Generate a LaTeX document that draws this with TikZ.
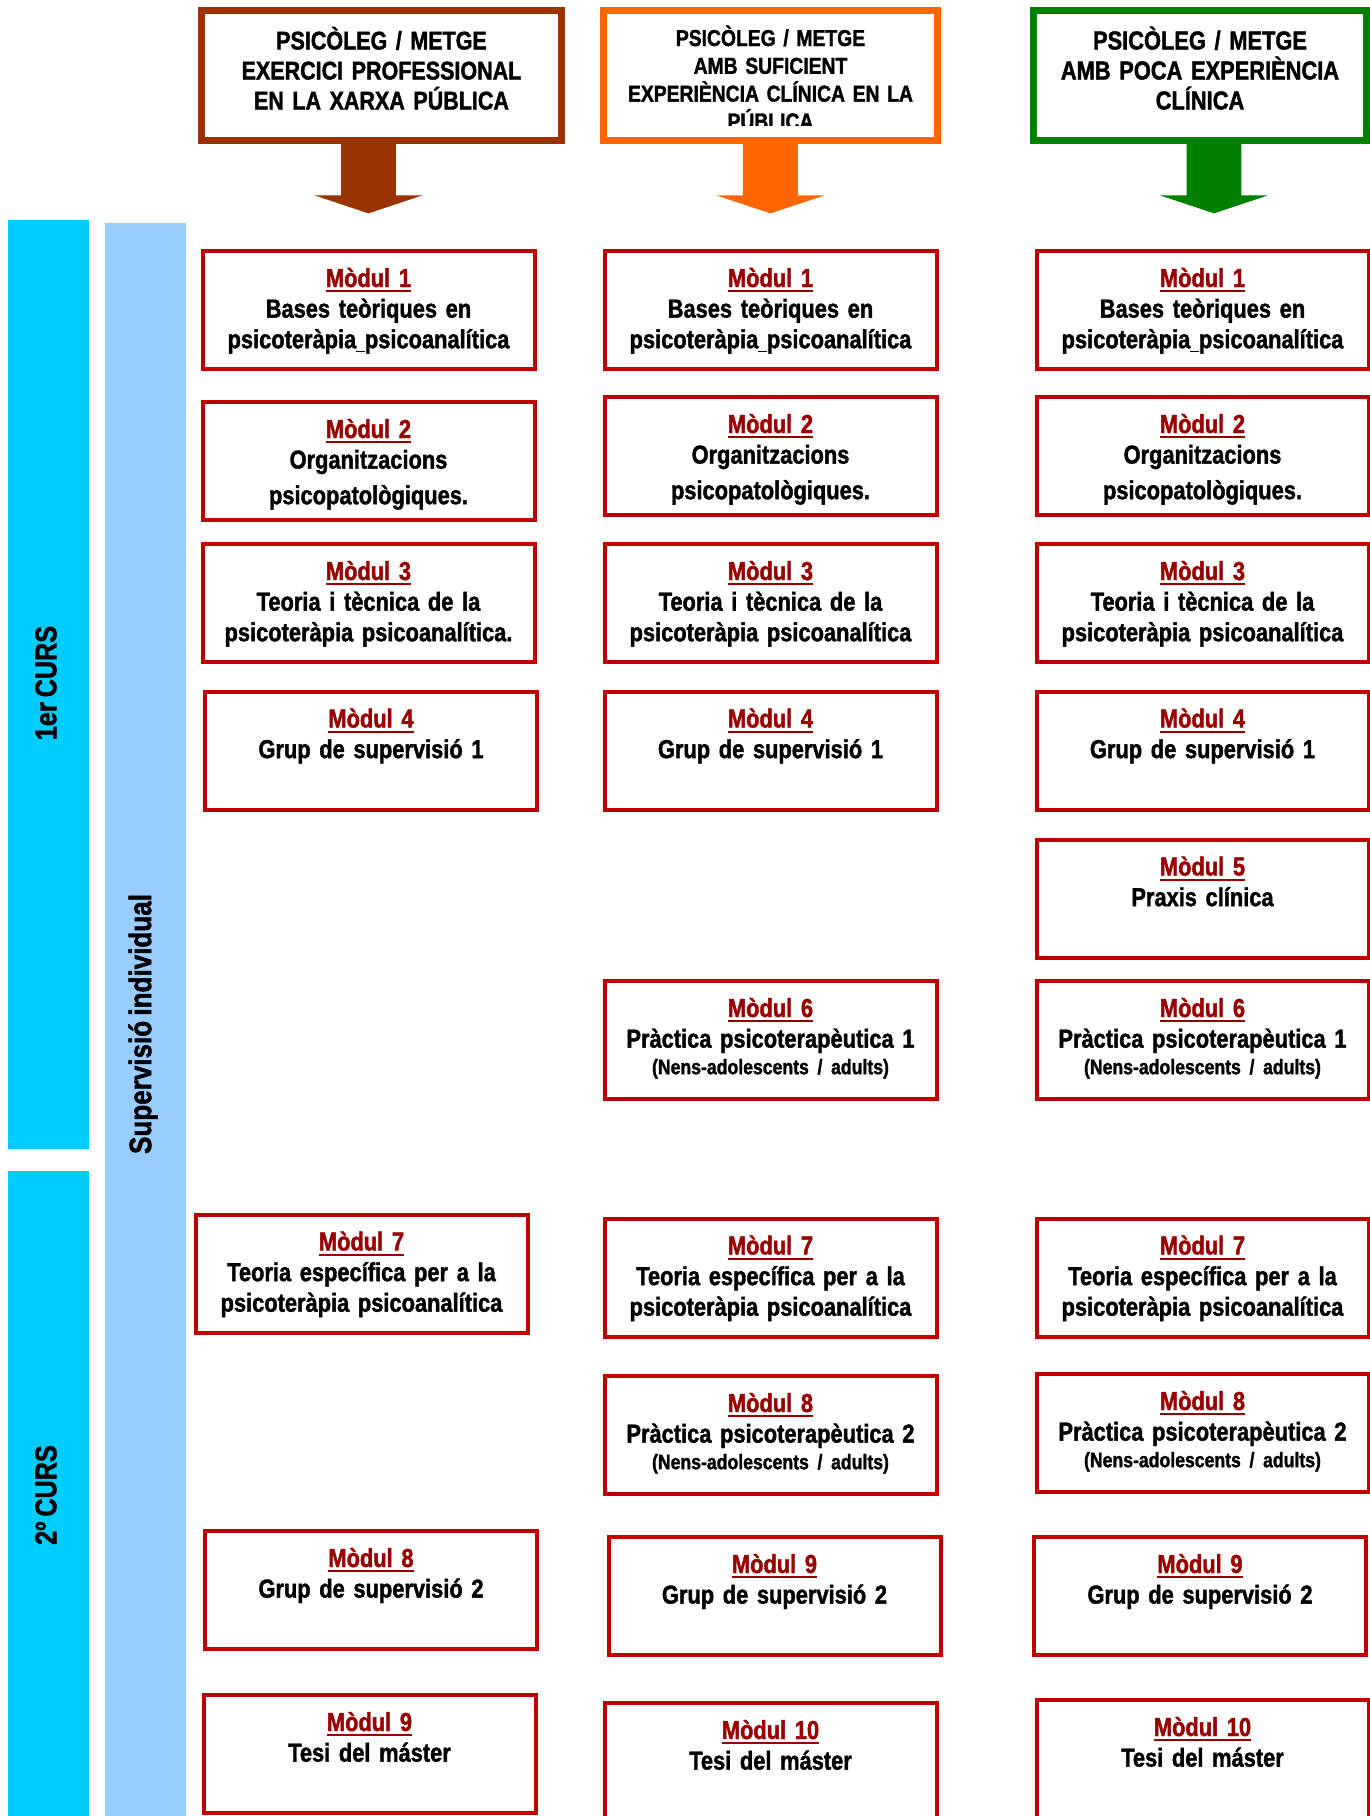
\documentclass[tikz,border=0pt]{standalone}
\usepackage{fontspec}
\setmainfont{Liberation Sans}[FakeStretch=0.84, WordSpace=0.72, BoldFeatures={FakeBold=1.5}]
\usetikzlibrary{shapes.arrows}

\definecolor{modred}{HTML}{C00000}
\definecolor{titlered}{HTML}{990000}
\definecolor{cursblue}{HTML}{00CCFF}
\definecolor{superblue}{HTML}{99CCFF}
\definecolor{hbrown}{HTML}{993300}
\definecolor{horange}{HTML}{FF6600}
\definecolor{hgreen}{HTML}{008000}

\newcommand{\modul}[1]{\textcolor{titlered}{\setbox0\hbox{Mòdul #1}\rlap{\rule[-2.6pt]{\wd0}{0.9pt}}\box0}}

\tikzset{
	modbox/.style = {
		draw=modred, line width=2pt,
		minimum width=166pt, text width=160pt, align=center,
		inner xsep=3pt, inner ysep=0pt,
		text height=18pt, text depth=41pt,
		font=\fontsize{13}{15.3}\selectfont\bfseries
	},
	headbox/.style = {
		draw=#1, line width=3.5pt,
		inner xsep=4pt, inner ysep=0pt, align=center,
		text height=19.5pt, text depth=45.5pt
	},
	downarrow/.style = {
		fill=#1, single arrow, rotate=-90, anchor=tail,
		inner xsep=0pt, inner ysep=13.5pt, minimum height=36.5pt,
		single arrow head extend=13.25pt, single arrow tip angle=143
	},
	barlabel/.style = {
		rotate=90, font=\fontsize{15}{18}\selectfont\bfseries
	}
}

\begin{document}
\begin{tikzpicture}[x=0.5pt, y=-0.5pt]
	\useasboundingbox (0,0) rectangle (1370,1816);
	\clip (0,0) rectangle (1370,1816);
	% bars on the left
	\fill [cursblue] (8,220) rectangle (89,1149);
	\fill [cursblue] (8,1171) rectangle (89,1816);
	\fill [superblue] (105,223) rectangle (186,1816);
	\node [barlabel] (curs1) at (46,683) {1er CURS};
	\node [barlabel] (curs2) at (46,1495) {2º CURS};
	\node [barlabel, font=\fontsize{15.5}{18}\selectfont\bfseries] (superv) at (143,1024) {Supervisió individual};
	% the three profiles
	\node [downarrow=hbrown] (a1) at (368.5,140) {};
	\node [downarrow=horange] (a2) at (770.5,140) {};
	\node [downarrow=hgreen] (a3) at (1214,140) {};
	\node [headbox=hbrown, text width=172pt, font=\fontsize{12.8}{15}\selectfont\bfseries] (h1) at (381.5,75.5)
		{PSICÒLEG / METGE\\EXERCICI PROFESSIONAL\\EN LA XARXA PÚBLICA};
	\node [headbox=horange, text width=159pt] (h2) at (770.5,75.5) {};
	\begin{scope}
		\clip (h2.north west) rectangle ([yshift=9.5pt]h2.south east);
		\node [anchor=base, text width=159pt, align=center, font=\fontsize{11.5}{13.9}\selectfont\bfseries] (h2text) at (770.5,46)
			{PSICÒLEG / METGE\\AMB SUFICIENT\\EXPERIÈNCIA CLÍNICA EN LA\\PÚBLICA};
	\end{scope}
	\node [headbox=hgreen, text width=158.5pt, font=\fontsize{13}{15}\selectfont\bfseries] (h3) at (1200,75.5)
		{PSICÒLEG / METGE\\AMB POCA EXPERIÈNCIA\\CLÍNICA};
	% first year
	\foreach \x/\c in {368.5/a, 770.5/b, 1202.5/c}
	{
		\node [modbox] (m1\c) at (\x,310) {\modul{1}\\Bases teòriques en\\psicoteràpia\underline{\ }psicoanalítica};
	}
	\foreach \x/\y/\c in {368.5/461/a, 770.5/456/b, 1202.5/456/c}
	{
		\node [modbox] (m2\c) at (\x,\y) {\modul{2}\\Organitzacions\\[2.5pt]psicopatològiques.};
	}
	\node [modbox] (m3a) at (368.5,603) {\modul{3}\\Teoria i tècnica de la\\psicoteràpia psicoanalítica.};
	\foreach \x/\c in {770.5/b, 1202.5/c}
	{
		\node [modbox] (m3\c) at (\x,603) {\modul{3}\\Teoria i tècnica de la\\psicoteràpia psicoanalítica};
	}
	\foreach \x/\c in {371/a, 770.5/b, 1202.5/c}
	{
		\node [modbox] (m4\c) at (\x,750.5) {\modul{4}\\Grup de supervisió 1};
	}
	\node [modbox] (m5c) at (1202.5,898.5) {\modul{5}\\Praxis clínica};
	\foreach \x/\c in {770.5/b, 1202.5/c}
	{
		\node [modbox] (m6\c) at (\x,1040) {\modul{6}\\Pràctica psicoterapèutica 1\\[-2pt]{\fontsize{10.5}{12}\selectfont (Nens-adolescents / adults)}};
	}
	% second year
	\foreach \x/\y/\c in {361.5/1273.5/a, 770.5/1277.5/b, 1202.5/1277.5/c}
	{
		\node [modbox] (m7\c) at (\x,\y) {\modul{7}\\Teoria específica per a la\\psicoteràpia psicoanalítica};
	}
	\node [modbox] (m8a) at (371,1590) {\modul{8}\\Grup de supervisió 2};
	\node [modbox] (m9a) at (369.5,1754) {\modul{9}\\Tesi del máster};
	\foreach \x/\y/\c in {770.5/1435/b, 1202.5/1433/c}
	{
		\node [modbox] (m8\c) at (\x,\y) {\modul{8}\\Pràctica psicoterapèutica 2\\[-2pt]{\fontsize{10.5}{12}\selectfont (Nens-adolescents / adults)}};
	}
	\foreach \x/\c in {774.5/b, 1200/c}
	{
		\node [modbox] (m9\c) at (\x,1596) {\modul{9}\\Grup de supervisió 2};
	}
	\node [modbox] (m10b) at (770.5,1762) {\modul{10}\\Tesi del máster};
	\node [modbox] (m10c) at (1202.5,1759) {\modul{10}\\Tesi del máster};
\end{tikzpicture}
\end{document}
